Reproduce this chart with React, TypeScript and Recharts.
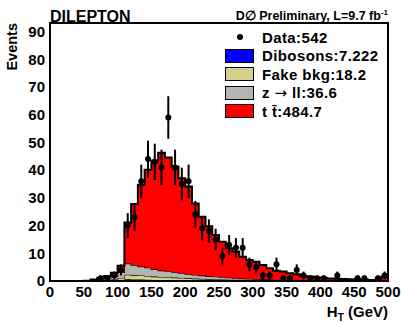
import React from 'react'
import {
  ComposedChart,
  Area,
  Scatter,
  ErrorBar,
  XAxis,
  YAxis,
  ReferenceArea,
  Legend,
} from 'recharts'

const FONT = "'Liberation Sans', Arial, Helvetica, sans-serif"

// bin edges in GeV (10 GeV bins)
const binEdges = [
  0, 10, 20, 30, 40, 50, 60, 70, 80, 90,
  100, 110, 120, 130, 140, 150, 160, 170, 180, 190,
  200, 210, 220, 230, 240, 250, 260, 270, 280, 290,
  300, 310, 320, 330, 340, 350, 360, 370, 380, 390,
  400, 410, 420, 430, 440, 450, 460, 470, 480, 490, 500,
]

const dibosons = [
  0, 0, 0, 0, 0, 0, 0, 0, 0.05, 0.1,
  0.3, 0.6, 0.55, 0.5, 0.45, 0.4, 0.38, 0.35, 0.32, 0.3,
  0.28, 0.25, 0.22, 0.2, 0.18, 0.16, 0.14, 0.12, 0.11, 0.1,
  0.09, 0.08, 0.07, 0.06, 0.05, 0.05, 0.04, 0.04, 0.03, 0.03,
  0.03, 0.02, 0.02, 0.02, 0.02, 0.01, 0.01, 0.01, 0.01, 0.05,
]

const fakeBkg = [
  0, 0, 0, 0, 0, 0, 0.05, 0.2, 0.3, 0.4,
  0.8, 1.7, 1.6, 1.5, 1.35, 1.2, 1.1, 1.0, 0.9, 0.8,
  0.7, 0.62, 0.55, 0.5, 0.45, 0.4, 0.35, 0.3, 0.27, 0.24,
  0.2, 0.18, 0.15, 0.13, 0.11, 0.1, 0.08, 0.07, 0.06, 0.05,
  0.05, 0.04, 0.04, 0.03, 0.03, 0.02, 0.02, 0.02, 0.02, 0.1,
]

const zToLL = [
  0, 0, 0, 0, 0, 0.05, 0.3, 0.6, 0.8, 1.2,
  2.0, 4.0, 3.6, 3.2, 3.0, 2.6, 2.3, 2.2, 2.0, 1.7,
  1.5, 1.3, 1.2, 1.0, 0.9, 0.8, 0.7, 0.6, 0.5, 0.45,
  0.4, 0.35, 0.3, 0.27, 0.24, 0.2, 0.18, 0.15, 0.13, 0.12,
  0.1, 0.09, 0.08, 0.07, 0.06, 0.05, 0.05, 0.04, 0.04, 0.2,
]

const ttbar = [
  0, 0, 0, 0, 0, 0.05, 0.15, 0.4, 0.65, 1.3,
  2.4, 14.8, 22.0, 29.5, 35.3, 39.3, 42.5, 41.0, 38.1, 34.3,
  31.6, 25.8, 21.2, 18.1, 15.1, 12.8, 10.6, 9.6, 7.9, 6.8,
  6.3, 5.2, 4.1, 3.2, 3.0, 2.45, 2.1, 1.55, 1.4, 1.1,
  0.92, 0.75, 0.66, 0.58, 0.49, 0.42, 0.42, 0.33, 0.33, 1.15,
]

const dataCounts = [
  0, 0, 0, 0, 0, 0, 0, 1, 1, 2,
  4, 20, 23, 36, 44, 43, 41, 59, 41, 35,
  36, 24, 19, 18, 15, 9, 13, 12, 12, 6,
  5, 2, 2, 6, 1, 1, 4, 2, 1, 1,
  1, 0, 2, 0, 0, 1, 1, 0, 1, 2,
]

const xTicks = [0, 50, 100, 150, 200, 250, 300, 350, 400, 450, 500]
const yTicks = [0, 10, 20, 30, 40, 50, 60, 70, 80, 90]
const xMinorTicks = Array.from({ length: 51 }, (_, i) => i * 10)
const yMinorTicks = Array.from({ length: 47 }, (_, i) => i * 2)
const Y_MAX = 93.1

const legendItems = [
  { label: ['Data:542'], color: '#000', marker: true },
  { label: ['Dibosons:7.222'], color: '#0000ff', marker: false },
  { label: ['Fake bkg:18.2'], color: '#d6cf8e', marker: false },
  { label: ['z ', '\u2192', ' ll:36.6'], color: '#b4b4b4', marker: false },
  { label: ['t t\u0304:484.7'], color: '#ff0000', marker: false },
]

// histogram rows at bin edges, last edge repeats the last bin
const histRows = binEdges.map((edge, i) => {
  const j = Math.min(i, dataCounts.length - 1)
  return { x: edge, dib: dibosons[j], fake: fakeBkg[j], zll: zToLL[j], tt: ttbar[j] }
})

const dataPoints = dataCounts
  .map((n, i) => ({ x: (binEdges[i] + binEdges[i + 1]) / 2, y: n, err: Math.sqrt(n) }))
  .filter((p) => p.y > 0)

const tickStyle = { fill: '#000', fontSize: 15, fontWeight: 700, fontFamily: FONT }

function DataDot(props: any) {
  return <circle cx={props.cx} cy={props.cy} r={3} fill="#000" />
}

function renderLegend() {
  return (
    <div style={{ fontFamily: FONT, fontWeight: 700, fontSize: 15, color: '#000' }}>
      {legendItems.map((item) => (
        <div key={item.label.join('')} style={{ display: 'flex', alignItems: 'center', height: 18.5 }}>
          <div style={{ width: 29, height: 14, display: 'flex', alignItems: 'center', justifyContent: 'center' }}>
            {item.marker ? (
              <div style={{ width: 6, height: 6, borderRadius: '50%', background: '#000' }} />
            ) : (
              <div
                style={{
                  width: 29,
                  height: 14,
                  boxSizing: 'border-box',
                  background: item.color,
                  border: '1.5px solid #000',
                }}
              />
            )}
          </div>
          <span style={{ marginLeft: 8, whiteSpace: 'nowrap', letterSpacing: 0.4 }}>
            {item.label.map((part, k) =>
              part === '\u2192' ? (
                <span key={k} style={{ fontFamily: "'DejaVu Sans', sans-serif", fontWeight: 400, fontSize: 15 }}>
                  {part}
                </span>
              ) : (
                <span key={k}>{part}</span>
              ),
            )}
          </span>
        </div>
      ))}
    </div>
  )
}

export default function App() {
  return (
    <div style={{ position: 'absolute', left: 0, top: 0, width: 402, height: 322, background: '#fff' }}>
      <ComposedChart
        width={402}
        height={322}
        data={histRows}
        margin={{ top: 23, right: 14, bottom: 0, left: 0 }}
      >
        <XAxis
          xAxisId="x"
          type="number"
          dataKey="x"
          domain={[0, 500]}
          allowDataOverflow
          ticks={xTicks}
          interval={0}
          height={41}
          tickLine={false}
          tickSize={2}
          tickMargin={3}
          axisLine={{ stroke: '#000', strokeWidth: 2 }}
          tick={tickStyle}
        />
        <XAxis
          xAxisId="xMaj"
          type="number"
          domain={[0, 500]}
          allowDataOverflow
          ticks={xTicks}
          interval={0}
          mirror
          tick={false}
          tickSize={8}
          axisLine={false}
          tickLine={{ stroke: '#000', strokeWidth: 1.2 }}
        />
        <XAxis
          xAxisId="xMin"
          type="number"
          domain={[0, 500]}
          allowDataOverflow
          ticks={xMinorTicks}
          interval={0}
          mirror
          tick={false}
          tickSize={4}
          axisLine={false}
          tickLine={{ stroke: '#000', strokeWidth: 1.2 }}
        />
        <YAxis
          yAxisId="y"
          type="number"
          domain={[0, Y_MAX]}
          allowDataOverflow
          ticks={yTicks}
          interval={0}
          width={50}
          tickLine={false}
          tickSize={3}
          tickMargin={2}
          axisLine={{ stroke: '#000', strokeWidth: 2 }}
          tick={tickStyle}
        />
        <YAxis
          yAxisId="yMaj"
          type="number"
          domain={[0, Y_MAX]}
          allowDataOverflow
          ticks={yTicks}
          interval={0}
          mirror
          tick={false}
          tickSize={10}
          axisLine={false}
          tickLine={{ stroke: '#000', strokeWidth: 1.2 }}
        />
        <YAxis
          yAxisId="yMin"
          type="number"
          domain={[0, Y_MAX]}
          allowDataOverflow
          ticks={yMinorTicks}
          interval={0}
          mirror
          tick={false}
          tickSize={5}
          axisLine={false}
          tickLine={{ stroke: '#000', strokeWidth: 1.2 }}
        />
        <Area
          xAxisId="x"
          yAxisId="y"
          type="stepAfter"
          dataKey="dib"
          stackId="mc"
          fill="#0000ff"
          fillOpacity={1}
          stroke="#000"
          strokeWidth={1.2}
          dot={false}
          activeDot={false}
          isAnimationActive={false}
        />
        <Area
          xAxisId="x"
          yAxisId="y"
          type="stepAfter"
          dataKey="fake"
          stackId="mc"
          fill="#d6cf8e"
          fillOpacity={1}
          stroke="#000"
          strokeWidth={1.2}
          dot={false}
          activeDot={false}
          isAnimationActive={false}
        />
        <Area
          xAxisId="x"
          yAxisId="y"
          type="stepAfter"
          dataKey="zll"
          stackId="mc"
          fill="#b4b4b4"
          fillOpacity={1}
          stroke="#000"
          strokeWidth={1.2}
          dot={false}
          activeDot={false}
          isAnimationActive={false}
        />
        <Area
          xAxisId="x"
          yAxisId="y"
          type="stepAfter"
          dataKey="tt"
          stackId="mc"
          fill="#ff0000"
          fillOpacity={1}
          stroke="#000"
          strokeWidth={2}
          dot={false}
          activeDot={false}
          isAnimationActive={false}
        />
        <Scatter
          xAxisId="x"
          yAxisId="y"
          data={dataPoints}
          dataKey="y"
          shape={DataDot}
          isAnimationActive={false}
        >
          <ErrorBar dataKey="err" direction="y" width={0} stroke="#000" strokeWidth={2} />
        </Scatter>
        <ReferenceArea
          xAxisId="x"
          yAxisId="y"
          x1={0}
          x2={500}
          y1={0}
          y2={Y_MAX}
          fill="none"
          fillOpacity={0}
          stroke="#000"
          strokeWidth={2}
          ifOverflow="visible"
        />
        <Legend
          layout="vertical"
          align="center"
          verticalAlign="middle"
          wrapperStyle={{ position: 'absolute', left: 225, top: 28, width: 165, height: 95 }}
          content={renderLegend}
        />
      </ComposedChart>
      <svg
        width={402}
        height={322}
        style={{ position: 'absolute', left: 0, top: 0, pointerEvents: 'none' }}
        fontFamily={FONT}
        fontWeight={700}
      >
        <text x={50} y={21.5} fontSize={16}>DILEPTON</text>
        <text x={388} y={19.5} fontSize={12.5} textAnchor="end">
          D{'\u2205'} Preliminary, L=9.7 fb
          <tspan fontSize={8} dy={-5}>-1</tspan>
        </text>
        <text x={17} y={23} fontSize={14.5} textAnchor="end" transform="rotate(-90 17 23)">
          Events
        </text>
        <text x={388} y={317} fontSize={15} textAnchor="end">
          H<tspan fontSize={10} dy={4}>T</tspan>
          <tspan dy={-4}> (GeV)</tspan>
        </text>
      </svg>
    </div>
  )
}
